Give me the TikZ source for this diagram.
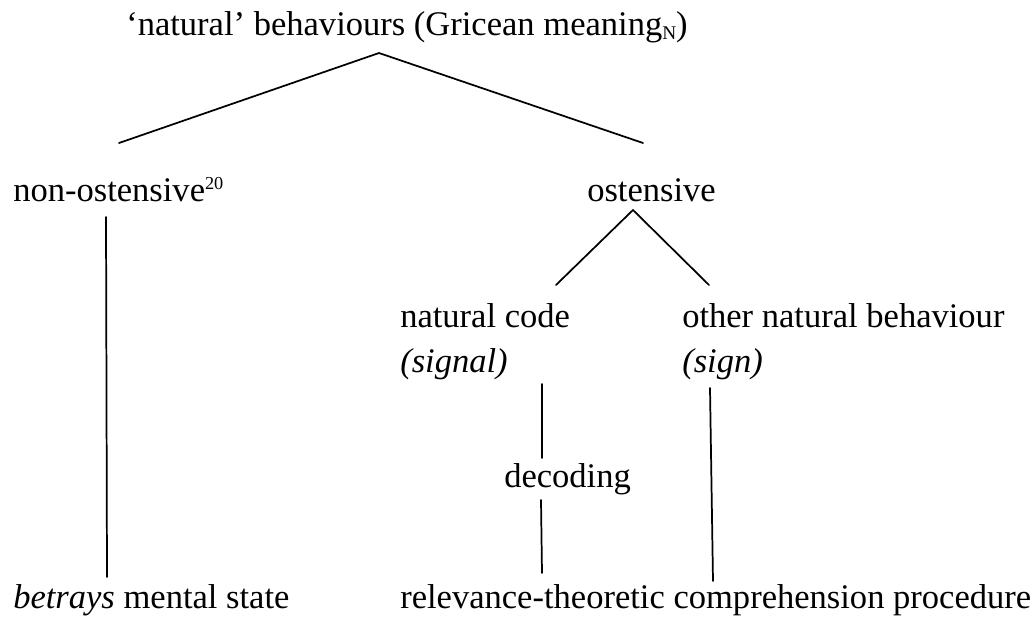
\documentclass[tikz,border=0pt]{standalone}
\usepackage{fontspec}
\setmainfont{Liberation Serif}
\newcommand{\smallsup}[1]{\raisebox{8.6pt}{\fontsize{13.7}{14}\selectfont #1}}
\newcommand{\smallsub}[1]{\raisebox{-3.5pt}{\fontsize{14.5}{15}\selectfont #1}}
\begin{document}
\begin{tikzpicture}[x=0.75pt,y=-0.75pt,
  every node/.style={inner sep=0pt, anchor=base west, font=\fontsize{25.9}{31}\selectfont},
  link/.style={line width=1.3pt, line cap=round}]
\useasboundingbox (0,0) rectangle (1036,618);
% labels
\node (root) at (126,35) {‘natural’ behaviours (Gricean meaning\smallsub{N})};
\node (nonost) at (13,201) {non-ostensive\smallsup{20}};
\node (ost) at (587,201) {ostensive};
\node (code) at (400,327) {natural code};
\node (signal) at (400,372) {\textit{(signal)}};
\node (other) at (682,327) {other natural behaviour};
\node (sign) at (682,372) {\textit{(sign)}};
\node (decoding) at (504,487) {decoding};
\node (betrays) at (13,608) {\textit{betrays} mental state};
\node (rtcp) at (400,608) {relevance-theoretic comprehension procedure};
% connector points
\coordinate (rootapex) at (379,53);
\coordinate (nonosttop) at (119,143);
\coordinate (osttop) at (643,143);
\coordinate (ostapex) at (633,210);
\coordinate (codetop) at (556,285);
\coordinate (othertop) at (709,285);
\coordinate (nonostbot) at (106,217);
\coordinate (betraystop) at (107,577);
\coordinate (signalbot) at (542,384);
\coordinate (decodingtop) at (542,458);
\coordinate (decodingbot) at (541,500);
\coordinate (rtcptopA) at (542,573);
\coordinate (signbot) at (710,388);
\coordinate (rtcptopB) at (713,581);
% connectors
\draw[link] (nonosttop) -- (rootapex) -- (osttop);
\draw[link] (codetop) -- (ostapex) -- (othertop);
\draw[link] (nonostbot) -- (betraystop);
\draw[link] (signalbot) -- (decodingtop);
\draw[link] (decodingbot) -- (rtcptopA);
\draw[link] (signbot) -- (rtcptopB);
\end{tikzpicture}
\end{document}
